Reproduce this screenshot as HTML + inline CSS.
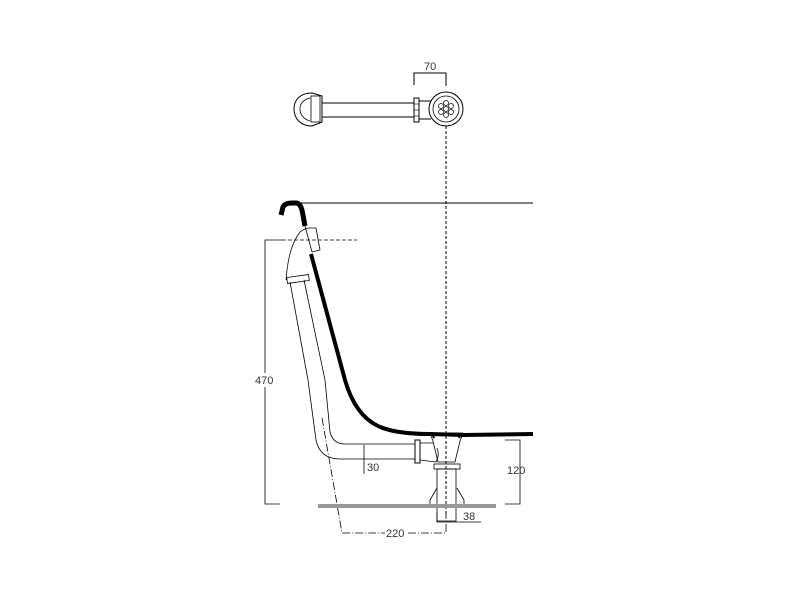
<!DOCTYPE html>
<html><head><meta charset="utf-8"><style>
html,body{margin:0;padding:0;background:#fff;width:800px;height:600px;overflow:hidden}
svg{display:block}
text{font-family:"Liberation Sans",sans-serif;font-size:11px;fill:#333;stroke:none}
</style></head><body>
<svg width="800" height="600" viewBox="0 0 800 600" xmlns="http://www.w3.org/2000/svg" fill="none" stroke="#000">
<!-- plan view -->
<g stroke-width="1">
<path d="M312,93 C300,93 294,100 294,109 C294,119 301,126 312,126 L322,122 L322,96 Z"/>
<path d="M310,98 C302,100 300,105 300,109 C300,114 303,119 310,121" stroke-width="0.8"/>
<rect x="311" y="96" width="9" height="26" stroke-width="0.8"/>
<line x1="322" y1="103" x2="414" y2="103"/>
<line x1="322" y1="117" x2="414" y2="117"/>
<rect x="414" y="98" width="5" height="24"/>
<line x1="414" y1="104" x2="419" y2="104" stroke-width="0.6"/>
<line x1="414" y1="110" x2="419" y2="110" stroke-width="0.6"/>
<line x1="414" y1="116" x2="419" y2="116" stroke-width="0.6"/>
<line x1="419" y1="101" x2="431" y2="101"/>
<line x1="419" y1="119" x2="431" y2="119"/>
<circle cx="446" cy="109" r="17"/>
<circle cx="446" cy="109" r="13" stroke-width="0.8"/>
<g stroke-width="0.7">
<circle cx="446" cy="109" r="2.5"/><circle cx="441" cy="106" r="2.5"/><circle cx="451" cy="106" r="2.5"/>
<circle cx="441" cy="112" r="2.5"/><circle cx="451" cy="112" r="2.5"/><circle cx="446" cy="103" r="2.5"/><circle cx="446" cy="115" r="2.5"/>
</g>
<path d="M414,85 V73 H446 V86"/>
</g>
<text x="424" y="70">70</text>
<line x1="446" y1="126" x2="446" y2="515" stroke-dasharray="3,2" stroke-width="1"/>
<!-- tub rim -->
<line x1="300" y1="203" x2="533" y2="203" stroke-width="1"/>
<path d="M281,215 L283,207 Q285,203 292,203 L296,203 Q300,203 302,210 L305,226" stroke-width="5"/>
<!-- overflow head -->
<path d="M300,232 Q305,228 310,228 L316,228 L320,250 L312,252 M300,232 Q290,245 287,270 L286,280" stroke-width="0.8"/>
<line x1="305" y1="226" x2="312" y2="252" stroke-width="0.8"/>
<rect x="287" y="276" width="22" height="6" transform="rotate(-8 298 279)" stroke-width="0.8"/>
<!-- black tub wall -->
<path d="M311,254 L345,380 Q355,415 378,426 Q395,434 430,434 L463,435 L533,434" stroke-width="4"/>
<!-- overflow pipe -->
<path d="M290,282 L308,380 L316,440 Q320,459 340,459 L415,459" stroke-width="0.8"/>
<path d="M304,280 L325,380 L330,432 Q333,444 345,444 L415,444" stroke-width="0.8"/>
<path d="M322,418 L342,533 L385,533 M408,533 L446,533 L446,512" stroke-width="0.8" stroke-dasharray="8,2,1,2"/>
<line x1="364" y1="445" x2="364" y2="474" stroke-width="0.8"/>
<text x="367" y="471">30</text>
<text x="386" y="537">220</text>
<!-- nut and drain -->
<rect x="415" y="440" width="5" height="23" stroke-width="1"/>
<path d="M420,443 L433,443 M420,460 L436,462 Q440,455 437,448" stroke-width="0.8"/>
<path d="M430,433 L463,433 L460,441 L455,462 L438,462 L433,441 Z" stroke-width="0.8"/>
<path d="M432,433 L434,438 M461,433 L459,438" stroke-width="2"/>
<rect x="434" y="464" width="26" height="5" stroke-width="0.8"/>
<rect x="437" y="469" width="19" height="52" stroke-width="0.8"/>
<path d="M437,488 L430,500 L430,505 L464,505 L464,500 L457,488" stroke-width="0.8"/>
<rect x="318" y="504" width="178" height="4" fill="#999" stroke="none"/>
<!-- 38 -->
<path d="M437,512 V522 H481" stroke-width="0.8"/>
<text x="463" y="520">38</text>
<!-- 120 -->
<path d="M505,440 H520 V504 H505" stroke-width="0.8"/>
<text x="507" y="474">120</text>
<!-- 470 -->
<path d="M280,504 H265 V240 H282" stroke-width="0.8"/>
<line x1="282" y1="240" x2="357" y2="240" stroke-width="0.8" stroke-dasharray="4,2"/>
<rect x="252" y="373" width="26" height="14" fill="#fff" stroke="none"/>
<text x="255" y="384">470</text>
</svg>
</body></html>
